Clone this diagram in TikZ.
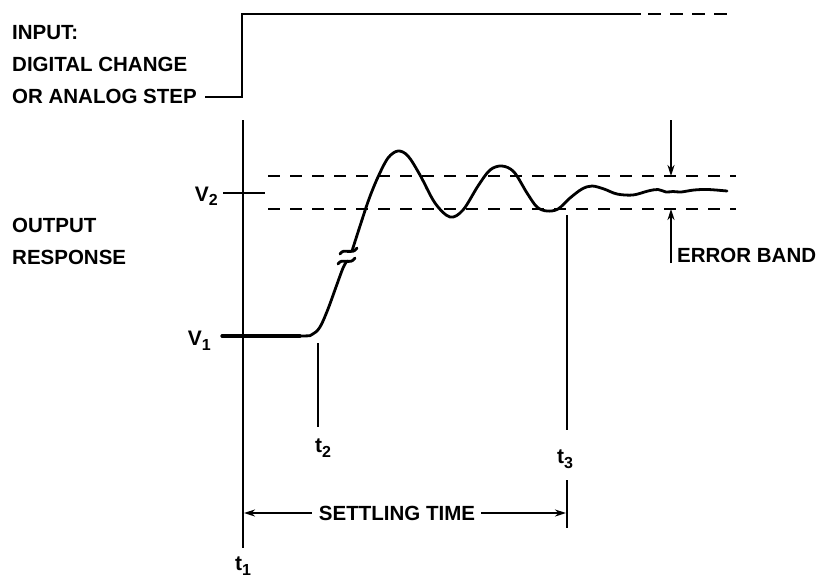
\documentclass[tikz,border=0pt]{standalone}
\usepackage{fontspec}
\setmainfont{Liberation Sans}
\usetikzlibrary{arrows.meta,positioning,calc}

\tikzset{
  lbl/.style={font=\fontsize{20.5}{32}\selectfont\bfseries, inner sep=0pt},
  sym/.style={font=\fontsize{21}{24}\selectfont\bfseries, inner sep=0pt},
  guide/.style={line width=2.1pt},
  band/.style={line width=1.9pt, dash pattern=on 12pt off 10pt},
  resp/.style={line width=2.8pt, line cap=round, line join=round},
  tip/.style={-{Stealth[length=11pt,width=7pt]}}
}
\newcommand{\lsub}[2]{#1\raisebox{-0.45ex}{\fontsize{16}{16}\selectfont #2}}

\begin{document}
\begin{tikzpicture}[x=1pt,y=-1pt]
    \useasboundingbox (0,0) rectangle (816,582);

    % Input step
    \node[lbl, anchor=north west, align=left] (inlbl) at (12,25)
        {INPUT:\\DIGITAL CHANGE\\OR ANALOG STEP};
    \coordinate (inA) at (205,97);
    \coordinate (inB) at (242,97);
    \coordinate (inC) at (242,14);
    \coordinate (inD) at (641,14);
    \coordinate (inE) at (648,14);
    \coordinate (inF) at (733,14);
    \draw[guide] (inA) -- (inB) -- (inC) -- (inD);
    \draw[guide, dash pattern=on 13pt off 9pt] (inE) -- (inF);

    % Output axis and levels
    \node[lbl, anchor=north west, align=left] (outlbl) at (12,218)
        {OUTPUT\\RESPONSE};
    \coordinate (t1top) at (243,120);
    \coordinate (t1bot) at (243,548);
    \draw[guide] (t1top) -- (t1bot);
    \node[sym, anchor=base east] (v2lbl) at (218,201) {\lsub{V}{2}};
    \node[sym, anchor=base east] (v1lbl) at (211,345) {\lsub{V}{1}};
    \coordinate (v2L) at (223,193);
    \coordinate (v2R) at (265,193);
    \draw[guide] (v2L) -- (v2R);

    % Error band
    \coordinate (hiL) at (268,176);
    \coordinate (hiR) at (736,176);
    \coordinate (loL) at (268,209);
    \coordinate (loR) at (736,209);
    \draw[band] (hiL) -- (hiR);
    \draw[band] (loL) -- (loR);

    % Response curve
    \draw[resp] plot[smooth, tension=0.55] coordinates {(222,336) (300,336)
        (312,334.5) (320,327) (328,309) (336,287) (343,268) (347,261)};
    \draw[resp, line width=3.2pt] (222,336) -- (300,336);
    \draw[resp] (338,264) .. controls (342,257) and (350,266) .. (355,258);
    \draw[resp] (340,254) .. controls (344,247) and (352,256) .. (357,248);
    \draw[resp] plot[smooth, tension=0.55] coordinates {(352,251) (360,226)
        (369,199) (378,177) (388,158) (398,151) (408,156) (420,175) (435,203)
        (450,217) (463,210) (478,186) (490,170) (502,166) (514,172) (527,193)
        (537,207) (547,211) (558,209) (570,198) (582,189) (592,186) (604,189)
        (617,194) (633,195) (648,191) (658,189.5) (666,192) (673,191.5)
        (681,192) (694,190) (708,189.5) (727,191)};

    % Time marks
    \coordinate (t2top) at (318,343);
    \coordinate (t2bot) at (318,427);
    \draw[guide] (t2top) -- (t2bot);
    \node[sym, anchor=base west] (t2lbl) at (315,452) {\lsub{t}{2}};
    \coordinate (t3top) at (567,215);
    \coordinate (t3mid) at (567,430);
    \draw[guide] (t3top) -- (t3mid);
    \node[sym, anchor=base west] (t3lbl) at (557,463) {\lsub{t}{3}};
    \coordinate (t3lo) at (567,480);
    \coordinate (t3bot) at (567,528);
    \draw[guide] (t3lo) -- (t3bot);
    \node[sym, anchor=base west] (t1lbl) at (235,570) {\lsub{t}{1}};

    % Settling time
    \node[lbl] (settle) at (397,513) {SETTLING TIME};
    \coordinate (stL) at (244,513);
    \coordinate (stR) at (566,513);
    \draw[guide, tip] ([xshift=-7pt]settle.west) -- (stL);
    \draw[guide, tip] ([xshift=6pt]settle.east) -- (stR);

    % Error band arrows
    \node[lbl, anchor=base west] (errlbl) at (677,262) {ERROR BAND};
    \coordinate (ebT) at (671,120);
    \coordinate (ebHi) at (671,176);
    \coordinate (ebB) at (671,263);
    \coordinate (ebLo) at (671,209);
    \draw[guide, tip] (ebT) -- (ebHi);
    \draw[guide, tip] (ebB) -- (ebLo);
\end{tikzpicture}
\end{document}
